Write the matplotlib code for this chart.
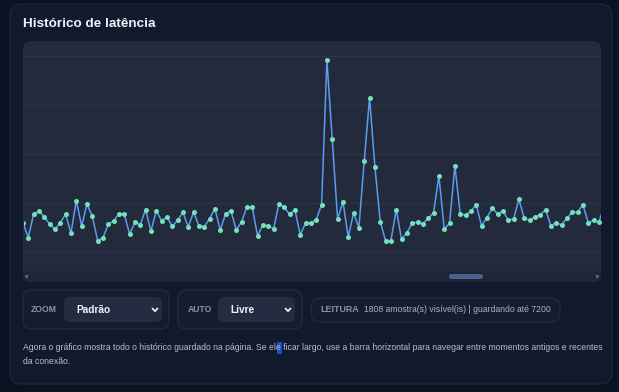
import matplotlib
matplotlib.use("Agg")
import matplotlib.pyplot as plt
from matplotlib.patches import FancyBboxPatch, Rectangle
import numpy as np

# latency samples visible in the window (ms)
latencia = [30, 14.6, 38.8, 41.5, 36, 28.3, 23.2, 29.9, 38.5, 19.1, 52.3,
            26.5, 48.7, 36.7, 11.5, 14.6, 28.3, 31.6, 38.8, 38.5, 18.4,
            30.3, 27.9, 43.2, 21.1, 42.1, 31.9, 35.7, 26.2, 32.3, 40.5,
            25.5, 40.8, 26.5, 25.8, 34, 44.2, 22.4, 39.1, 42.1, 22.4,
            30.9, 45.9, 45.6, 16.3, 27.9, 26.5, 23.8, 49, 45.6, 38.5,
            43.2, 17.3, 29.6, 29.6, 33, 48.3, 195.6, 115, 33.7, 51.3,
            15.3, 39.8, 24.8, 93.2, 157.4, 87, 30.9, 11.5, 11.5, 43.2,
            13, 19.7, 29.6, 30.3, 28.9, 34.4, 39.8, 77.6, 23.5, 29.3,
            88.1, 38.8, 37.4, 41.8, 48, 26.8, 35, 44.6, 39.1, 41.8,
            32.7, 33.7, 53.8, 34.4, 32.3, 35.7, 37.8, 43.2, 26.8, 29.9,
            27.6, 34.4, 40.5, 40.5, 48.3, 29.9, 32.3, 30.6, 47]
amostras = np.arange(len(latencia)) - 1
grade = [0, 50, 100, 150, 200]

titulo = "Histórico de latência"
zoom_opcao = "Padrão"
auto_opcao = "Livre"
leitura = "1808 amostra(s) visível(is) | guardando até 7200"
nota = ("Agora o gráfico mostra todo o histórico guardado na página. Se ele ficar largo, "
        "use a barra horizontal para navegar entre momentos antigos e recentes")
nota2 = "da conexão."

W, H = 619, 392
fig = plt.figure(figsize=(W / 100, H / 100), dpi=100)
fig.patch.set_facecolor("#0b1221")
plt.rcParams["font.family"] = ["Liberation Sans", "DejaVu Sans"]

# background axes in pixel coordinates
bg = fig.add_axes([0, 0, 1, 1])
bg.set_xlim(0, W)
bg.set_ylim(H, 0)
bg.axis("off")


def caixa(x0, y0, x1, y1, cor, borda="none", r=6, lw=1.0):
    p = FancyBboxPatch((x0 + r, y0 + r), x1 - x0 - 2 * r, y1 - y0 - 2 * r,
                       boxstyle=f"round,pad={r}", fc=cor, ec=borda, lw=lw)
    bg.add_patch(p)


def seta(cx, cy):
    bg.plot([cx - 2.5, cx, cx + 2.5], [cy - 1.5, cy + 1.2, cy - 1.5],
            color="#e5e9f0", lw=1.3, solid_capstyle="round")


# card
caixa(10, 4, 612, 384, "#111a2c", borda="#1c263a", r=12)
bg.text(23, 24, titulo, color="#eef2f8", fontsize=9.7, fontweight="bold",
        va="center", ha="left")

# chart panel
caixa(23, 41, 601, 282, "#222a3c", r=8)
# scrollbar
bg.add_patch(Rectangle((23, 271), 578, 10, fc="#1e2536", ec="none"))
caixa(449, 274, 483, 279, "#4b618c", r=2.5)
bg.plot([25.5, 27.5, 27.5, 25.5], [276.5, 275, 278, 276.5], color="#5a6680", lw=0.8)
bg.plot([598.5, 596.5, 596.5, 598.5], [276.5, 275, 278, 276.5], color="#5a6680", lw=0.8)

# controls
caixa(23, 290, 169, 329, "#141d30", borda="#1e2840", r=8)
bg.text(31, 310, "ZOOM", color="#8a95aa", fontsize=6.2, fontweight="bold", va="center")
caixa(64, 297, 162, 322, "#232c40", r=6)
bg.text(76, 310, zoom_opcao, color="#f1f4f9", fontsize=7.3, fontweight="bold", va="center")
seta(155, 310)

caixa(178, 290, 302, 329, "#141d30", borda="#1e2840", r=8)
bg.text(188, 310, "AUTO", color="#8a95aa", fontsize=6.2, fontweight="bold", va="center")
caixa(218, 297, 295, 322, "#232c40", r=6)
bg.text(230, 310, auto_opcao, color="#f1f4f9", fontsize=7.3, fontweight="bold", va="center")
seta(288, 310)

caixa(311, 298, 560, 322, "#141d30", borda="#1e2840", r=9)
bg.text(320, 310, "LEITURA", color="#8a95aa", fontsize=6.4, fontweight="bold", va="center")
bg.text(364, 310, leitura, color="#aab3c3", fontsize=6.2, va="center")

# note below (with the selected letter highlighted)
bg.add_patch(Rectangle((276.5, 342), 5, 12, fc="#1d4fc4", ec="none"))
bg.text(23, 348, nota, color="#b8c0cd", fontsize=6.2, va="center")
bg.text(23, 362, nota2, color="#b8c0cd", fontsize=6.2, va="center")

# chart axes
ax = fig.add_axes([23.5 / W, 1 - 270 / H, (601 - 23.5) / W, (270 - 42) / H])
ax.set_facecolor("none")
ax.set_xlim(-0.9, 107.4)
ax.set_ylim(-18.4, 214.3)
for g in grade:
    ax.axhline(g, color="#2a3448", lw=1.0, zorder=0)
ax.plot(amostras, latencia, color="#5b9cf0", lw=1.1, zorder=2)
ax.plot(amostras, latencia, "o", color="#74e2b8", ms=3.6, mec="none", zorder=3)
ax.axis("off")

fig.savefig("out.png", dpi=100, facecolor=fig.get_facecolor())
